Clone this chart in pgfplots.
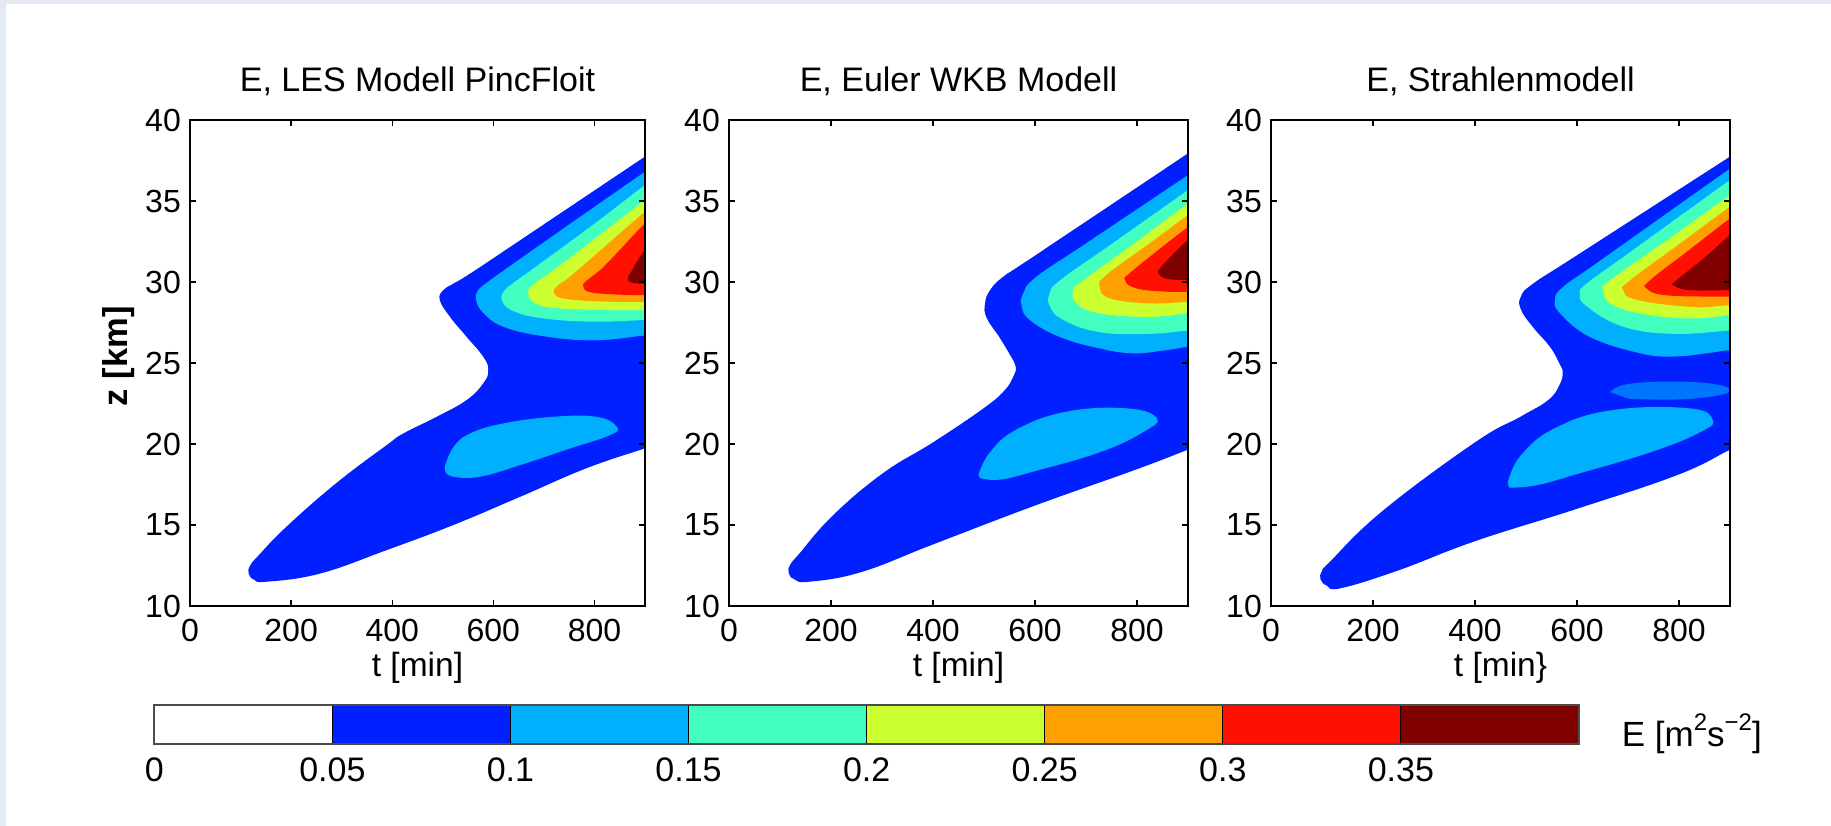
\documentclass[border=0pt]{standalone}
\usepackage{fontspec}
\setmainfont{Liberation Sans}
\usepackage{pgfplots}
\pgfplotsset{compat=1.18}
\definecolor{bgframe}{RGB}{228,234,241}
\definecolor{cA}{RGB}{0,32,255}
\definecolor{cB}{RGB}{0,176,255}
\definecolor{cC}{RGB}{66,255,192}
\definecolor{cD}{RGB}{204,255,48}
\definecolor{cE}{RGB}{255,160,0}
\definecolor{cF}{RGB}{255,16,0}
\definecolor{cG}{RGB}{128,0,0}
\newcommand{\fs}[1]{\fontsize{#1bp}{#1bp}\selectfont}
\pgfplotsset{
  panel/.style={
    anchor=south west, scale only axis, height=486bp,
    xmin=0, xmax=900, ymin=10, ymax=40,
    xtick={0,200,400,600,800}, ytick={10,15,20,25,30,35,40},
    tick align=inside, major tick length=6bp,
    every tick/.style={black, line width=1.3bp},
    axis line style={black, line width=1.5bp},
    axis on top,
    /pgf/number format/assume math mode=true,
    tick label style={font=\fs{32}},
    xticklabel style={anchor=base, yshift=-36bp},
    yticklabel style={anchor=east, inner sep=0pt, xshift=-9bp},
    every axis title/.style={at={(axis description cs:0.5,1)}, anchor=base, yshift=28bp, font=\fs{34}},
    every axis x label/.style={at={(axis description cs:0.5,0)}, anchor=base, yshift=-70bp, font=\fs{33.5}},
    every axis y label/.style={at={(axis description cs:-0.156,0.514)}, anchor=center, rotate=90, font=\bfseries\fs{34.5}},
  },
  ctr/.style={draw=none, smooth, tension=0.72},
}
\begin{document}
\begin{tikzpicture}
\useasboundingbox (0,0) rectangle (1831bp,826bp);
\fill[bgframe] (0,0) rectangle (1831bp,826bp);
\fill[white] (6bp,0) rectangle (1831bp,822bp);

% ---------- Panel 1: LES ----------
\begin{axis}[panel, at={(190bp,220bp)}, width=455bp,
  title={E, LES Modell PincFloit}, xlabel={t [min]}, ylabel={z [km]}]
\addplot[ctr, fill=cA] coordinates {(930,20.05) (900,19.73) (784,18.5) (653,16.74) (521,15.0) (389,13.45) (257,12.0) (152,11.5) (127,11.62) (116,12.0) (119,12.5) (135,13.1) (191,14.9) (290,17.6) (389,19.93) (422,20.65) (488,21.68) (547,22.71) (580,23.74) (590,24.56) (580,25.39) (547,26.62) (514,27.86) (494,28.89) (501,29.5) (521,29.9) (560,30.64) (700,33.56) (900,37.74) (930,38.37)} -- cycle;
\addplot[ctr, fill=cB] coordinates {(930,26.72) (900,26.7) (800,26.4) (700,26.65) (620,27.24) (580,28.1) (566,28.9) (570,29.5) (587,29.95) (620,30.7) (750,33.55) (900,36.81) (930,37.47)} -- cycle;
\addplot[ctr, fill=cB] coordinates {(504,18.6) (521,19.8) (554,20.65) (620,21.27) (719,21.68) (804,21.68) (844,21.07) (831,20.55) (752,19.73) (653,18.7) (573,17.98) (521,17.98) (505,18.3)} -- cycle;
\addplot[ctr, fill=cC] coordinates {(930,27.65) (900,27.65) (798,27.55) (699,27.75) (640,28.2) (618,28.8) (620,29.4) (640,29.95) (680,30.85) (800,33.6) (900,35.99) (930,36.67)} -- cycle;
\addplot[ctr, fill=cD] coordinates {(930,28.27) (900,28.27) (831,28.27) (732,28.37) (685,28.65) (669,29.3) (680,29.85) (720,30.75) (800,32.65) (900,35.06) (930,35.75)} -- cycle;
\addplot[ctr, fill=cE] coordinates {(930,28.78) (900,28.78) (831,28.78) (745,28.95) (720,29.3) (728,29.8) (760,30.55) (900,34.34) (930,35.0)} -- cycle;
\addplot[ctr, fill=cF] coordinates {(930,29.2) (900,29.2) (864,29.2) (795,29.35) (778,29.7) (785,30.1) (820,31.0) (900,33.62) (930,34.3)} -- cycle;
\addplot[ctr, fill=cG] coordinates {(930,29.9) (900,29.9) (875,29.95) (866,30.2) (872,30.6) (900,31.97) (930,32.6)} -- cycle;
\end{axis}

% ---------- Panel 2: Euler WKB ----------
\begin{axis}[panel, at={(729bp,220bp)}, width=459bp,
  title={E, Euler WKB Modell}, xlabel={t [min]}]
\addplot[ctr, fill=cA] coordinates {(930,20.0) (900,19.65) (796,18.4) (600,16.2) (400,13.8) (260,12.1) (158,11.5) (128,11.65) (117,12.05) (120,12.55) (137,13.2) (204,15.6) (302,18.2) (400,20.1) (499,22.2) (540,23.3) (558,24.2) (562,24.8) (551,25.5) (530,26.6) (505,27.8) (502,28.68) (512,29.5) (538,30.33) (600,31.63) (900,37.94) (930,38.58)} -- cycle;
\addplot[ctr, fill=cB] coordinates {(930,26.0) (900,26.0) (858,25.8) (793,25.6) (727,25.9) (649,26.6) (590,27.65) (574,28.5) (577,29.3) (603,30.33) (700,32.38) (900,36.6) (930,37.25)} -- cycle;
\addplot[ctr, fill=cB] coordinates {(489,18.1) (512,19.5) (564,20.9) (662,22.0) (780,22.2) (839,21.6) (813,20.75) (728,19.5) (597,18.3) (531,17.8) (492,17.9)} -- cycle;
\addplot[ctr, fill=cC] coordinates {(930,27.0) (900,27.0) (825,26.8) (727,26.9) (656,27.65) (629,28.5) (629,29.3) (649,30.1) (750,32.34) (900,35.68) (930,36.35)} -- cycle;
\addplot[ctr, fill=cD] coordinates {(930,28.06) (900,28.06) (825,27.85) (727,28.06) (682,28.68) (675,29.5) (695,30.1) (800,32.5) (900,34.85) (930,35.5)} -- cycle;
\addplot[ctr, fill=cE] coordinates {(930,28.78) (900,28.78) (825,28.68) (747,28.99) (727,29.71) (740,30.43) (820,32.28) (900,34.13) (930,34.8)} -- cycle;
\addplot[ctr, fill=cF] coordinates {(930,29.4) (900,29.4) (858,29.4) (800,29.6) (777,30.1) (793,30.74) (900,33.4) (930,34.05)} -- cycle;
\addplot[ctr, fill=cG] coordinates {(930,30.12) (900,30.12) (858,30.2) (842,30.53) (845,30.84) (870,31.7) (900,32.59) (930,33.2)} -- cycle;
\end{axis}

% ---------- Panel 3: Strahlenmodell ----------
\begin{axis}[panel, at={(1271bp,220bp)}, width=459bp,
  title={E, Strahlenmodell}, xlabel={t [min\}}]
\addplot[ctr, fill=cA] coordinates {(930,20.0) (900,19.65) (798,18.1) (600,16.0) (400,14.0) (250,12.2) (137,11.1) (110,11.25) (97,11.65) (100,12.15) (116,12.75) (220,15.9) (400,20.1) (490,21.7) (543,22.7) (565,23.6) (572,24.4) (565,25.0) (547,26.0) (514,27.2) (490,28.3) (490,29.1) (514,29.9) (600,31.65) (900,37.74) (930,38.36)} -- cycle;
\addplot[ctr, fill=cB] coordinates {(930,25.8) (900,25.8) (854,25.6) (789,25.4) (724,25.6) (626,26.6) (567,28.06) (557,28.9) (573,29.7) (650,31.42) (900,37.0) (930,37.65)} -- cycle;
\addplot[ctr, fill=cB] coordinates {(464,17.6) (490,19.3) (558,21.0) (671,22.1) (821,22.2) (866,21.5) (843,20.75) (745,19.5) (595,18.1) (520,17.45) (467,17.3)} -- cycle;
\addplot[ctr, fill=cB!60!cA] coordinates {(665,23.2) (700,23.7) (800,23.85) (885,23.6) (890,23.1) (800,22.75) (700,22.8)} -- cycle;
\addplot[ctr, fill=cC] coordinates {(930,27.0) (900,27.0) (789,26.8) (691,27.24) (619,28.5) (606,29.3) (619,29.9) (700,31.75) (900,36.3) (930,36.95)} -- cycle;
\addplot[ctr, fill=cD] coordinates {(930,27.96) (900,27.96) (822,27.75) (724,28.06) (665,28.68) (652,29.5) (665,30.1) (800,33.1) (900,35.37) (930,36.0)} -- cycle;
\addplot[ctr, fill=cE] coordinates {(930,28.57) (900,28.57) (822,28.47) (717,28.9) (691,29.5) (704,30.1) (800,32.33) (900,34.65) (930,35.3)} -- cycle;
\addplot[ctr, fill=cF] coordinates {(930,29.1) (900,29.1) (854,29.1) (769,29.2) (737,29.6) (743,30.1) (820,31.98) (900,33.93) (930,34.6)} -- cycle;
\addplot[ctr, fill=cG] coordinates {(930,29.5) (900,29.5) (822,29.5) (789,29.8) (795,30.1) (850,31.5) (900,32.9) (930,33.6)} -- cycle;
\end{axis}

% ---------- Colour bar ----------
\begin{axis}[anchor=south west, at={(154.3bp,82.3bp)}, scale only axis,
  width=1424.7bp, height=38.4bp, xmin=0, xmax=0.4, ymin=0, ymax=1,
  xtick={0,0.05,0.1,0.15,0.2,0.25,0.3,0.35},
  xticklabels={0,0.05,0.1,0.15,0.2,0.25,0.3,0.35},
  ytick=\empty, major tick length=0pt, axis on top,
  axis line style={line width=1.8bp, black!70},
  tick label style={font=\fs{34}},
  xticklabel style={anchor=base, yshift=-38.3bp}]
\addplot[fill=white, draw=black, line width=0.8bp] coordinates {(0,0) (0.05,0) (0.05,1) (0,1)} -- cycle;
\addplot[fill=cA, draw=black, line width=0.8bp] coordinates {(0.05,0) (0.1,0) (0.1,1) (0.05,1)} -- cycle;
\addplot[fill=cB, draw=black, line width=0.8bp] coordinates {(0.1,0) (0.15,0) (0.15,1) (0.1,1)} -- cycle;
\addplot[fill=cC, draw=black, line width=0.8bp] coordinates {(0.15,0) (0.2,0) (0.2,1) (0.15,1)} -- cycle;
\addplot[fill=cD, draw=black, line width=0.8bp] coordinates {(0.2,0) (0.25,0) (0.25,1) (0.2,1)} -- cycle;
\addplot[fill=cE, draw=black, line width=0.8bp] coordinates {(0.25,0) (0.3,0) (0.3,1) (0.25,1)} -- cycle;
\addplot[fill=cF, draw=black, line width=0.8bp] coordinates {(0.3,0) (0.35,0) (0.35,1) (0.3,1)} -- cycle;
\addplot[fill=cG, draw=black, line width=0.8bp] coordinates {(0.35,0) (0.4,0) (0.4,1) (0.35,1)} -- cycle;
\end{axis}
\node[anchor=base west, inner sep=0pt, font=\fs{35}] at (1621.7bp,79.3bp) {E [m\raisebox{0.45em}{\fs{24}2}s\raisebox{0.45em}{\fs{24}−2}]};
\end{tikzpicture}
\end{document}
